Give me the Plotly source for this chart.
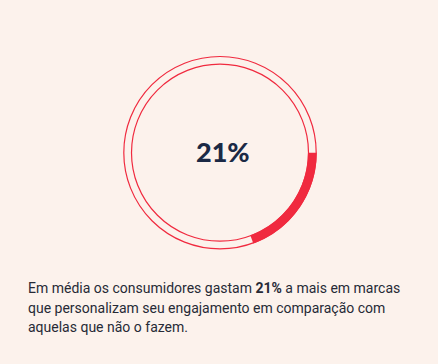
import plotly.graph_objects as go

# Data
share_labels = ["Preenchido", "Restante"]
share_values = [19.4, 80.6]   # arc as drawn in the picture
center_label = "21%"
caption_lines = [
    "Em média os consumidores gastam <b>21%</b> a mais em marcas",
    "que personalizam seu engajamento em comparação com",
    "aquelas que não o fazem.",
]

W, H = 438, 364
BG = "#FCF2EC"
RED = "#F02A3F"
NAVY = "#1B2945"
TEXT = "#272A36"

cx, cy = 220.0, 152.7
r_out = 96.7
r_in = 88.0

def px_x(x):
    return x / W

def px_y(y):
    return 1 - y / H

fig = go.Figure()
fig.add_trace(go.Pie(
    labels=share_labels,
    values=share_values,
    hole=r_in / r_out,
    sort=False,
    direction="clockwise",
    rotation=90,
    marker=dict(colors=[RED, "rgba(0,0,0,0)"], line=dict(width=0)),
    textinfo="none",
    hoverinfo="skip",
    showlegend=False,
    domain=dict(x=[px_x(cx - r_out), px_x(cx + r_out)],
                y=[px_y(cy + r_out), px_y(cy - r_out)]),
))

shapes = []
for r in (r_out - 0.5, r_in + 0.5):
    shapes.append(dict(type="circle", xref="paper", yref="paper",
                       x0=px_x(cx - r), x1=px_x(cx + r),
                       y0=px_y(cy + r), y1=px_y(cy - r),
                       line=dict(color=RED, width=1.2)))

annotations = [dict(text=center_label, x=px_x(223), y=px_y(151),
                    xref="paper", yref="paper", xanchor="center", yanchor="middle",
                    showarrow=False,
                    font=dict(family="Lato, sans-serif", size=27, color=NAVY, weight=900))]
baselines = [293, 312.5, 332]
for line, b in zip(caption_lines, baselines):
    annotations.append(dict(text=line, x=px_x(26), y=px_y(b - 5), xref="paper", yref="paper",
                            xanchor="left", yanchor="middle", showarrow=False,
                            font=dict(family="Roboto, sans-serif", size=14, color=TEXT)))

fig.update_layout(
    width=W, height=H,
    margin=dict(l=0, r=0, t=0, b=0),
    paper_bgcolor=BG, plot_bgcolor=BG,
    shapes=shapes, annotations=annotations,
)
fig.write_html("out.html", config={"displayModeBar": False},
               post_script="document.body.style.margin='0';")
